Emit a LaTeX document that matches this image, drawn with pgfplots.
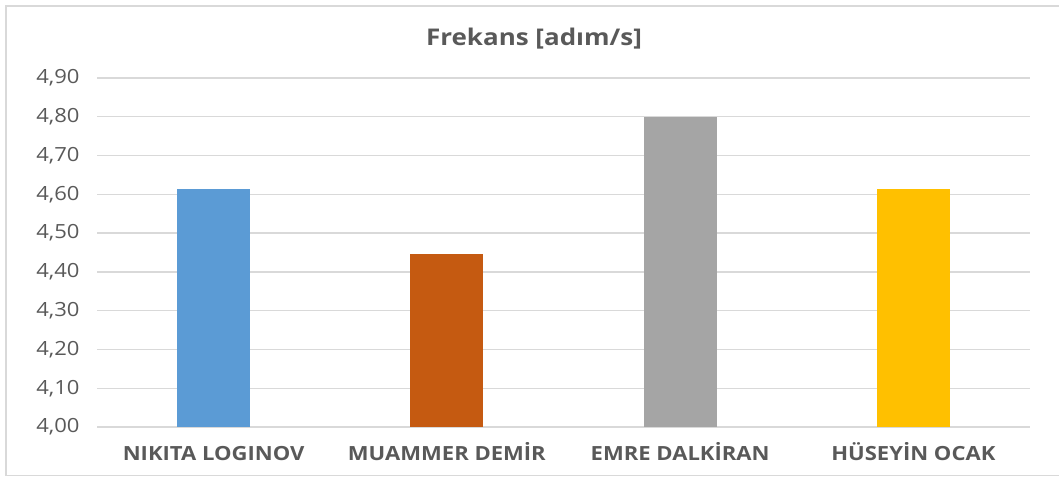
\documentclass[border=0pt]{standalone}
\usepackage{fontspec}
\setmainfont{Open Sans}[FakeStretch=1.13]
\usepackage{pgfplots}
\pgfplotsset{compat=1.18}
\definecolor{cblue}{HTML}{5B9BD5}
\definecolor{corange}{HTML}{C55A11}
\definecolor{cgray}{HTML}{A5A5A5}
\definecolor{cyellow}{HTML}{FFC000}
\definecolor{ctext}{HTML}{595959}
\definecolor{cgrid}{HTML}{D9D9D9}
\definecolor{cframe}{HTML}{D9D9D9}
\begin{document}
\begin{tikzpicture}
\useasboundingbox (0,0) rectangle (1059pt,477pt);
\draw[cframe, line width=1.5pt] (1059pt,471pt) -- (6pt,471pt) -- (6pt,1.5pt) -- (1059pt,1.5pt);
\node[font=\fontsize{23}{27}\selectfont\bfseries, text=ctext] at (534pt,438pt) {Frekans [adım/s]};
\begin{axis}[
  at={(97pt,50pt)}, anchor=south west,
  scale only axis, width=933pt, height=349pt,
  ymin=4.0, ymax=4.9, ytick={4.0,4.1,4.2,4.3,4.4,4.5,4.6,4.7,4.8,4.9},
  xmin=-0.5, xmax=3.5,
  xtick={0,1,2,3},
  xticklabels={NIKITA LOGINOV, MUAMMER DEMİR, EMRE DALKİRAN, HÜSEYİN OCAK},
  axis line style={draw=none},
  tick style={draw=none},
  ymajorgrids, grid style={cgrid, line width=1.3pt},
  /pgf/number format/fixed,
  /pgf/number format/fixed zerofill,
  /pgf/number format/precision=2,
  /pgf/number format/use comma,
  /pgf/number format/assume math mode=true,
  yticklabel style={font=\fontsize{19.5}{23}\selectfont, text=ctext, xshift=-14pt},
  xticklabel style={font=\fontsize{19.5}{23}\selectfont\bfseries, text=ctext, text height=16pt, text depth=4pt, yshift=-10pt},
  ybar, bar width=73pt, bar shift=0pt,
]
\addplot[fill=cblue, draw=none] coordinates {(0,4.615)};
\addplot[fill=corange, draw=none] coordinates {(1,4.445)};
\addplot[fill=cgray, draw=none] coordinates {(2,4.80)};
\addplot[fill=cyellow, draw=none] coordinates {(3,4.615)};
\end{axis}
\end{tikzpicture}
\end{document}
